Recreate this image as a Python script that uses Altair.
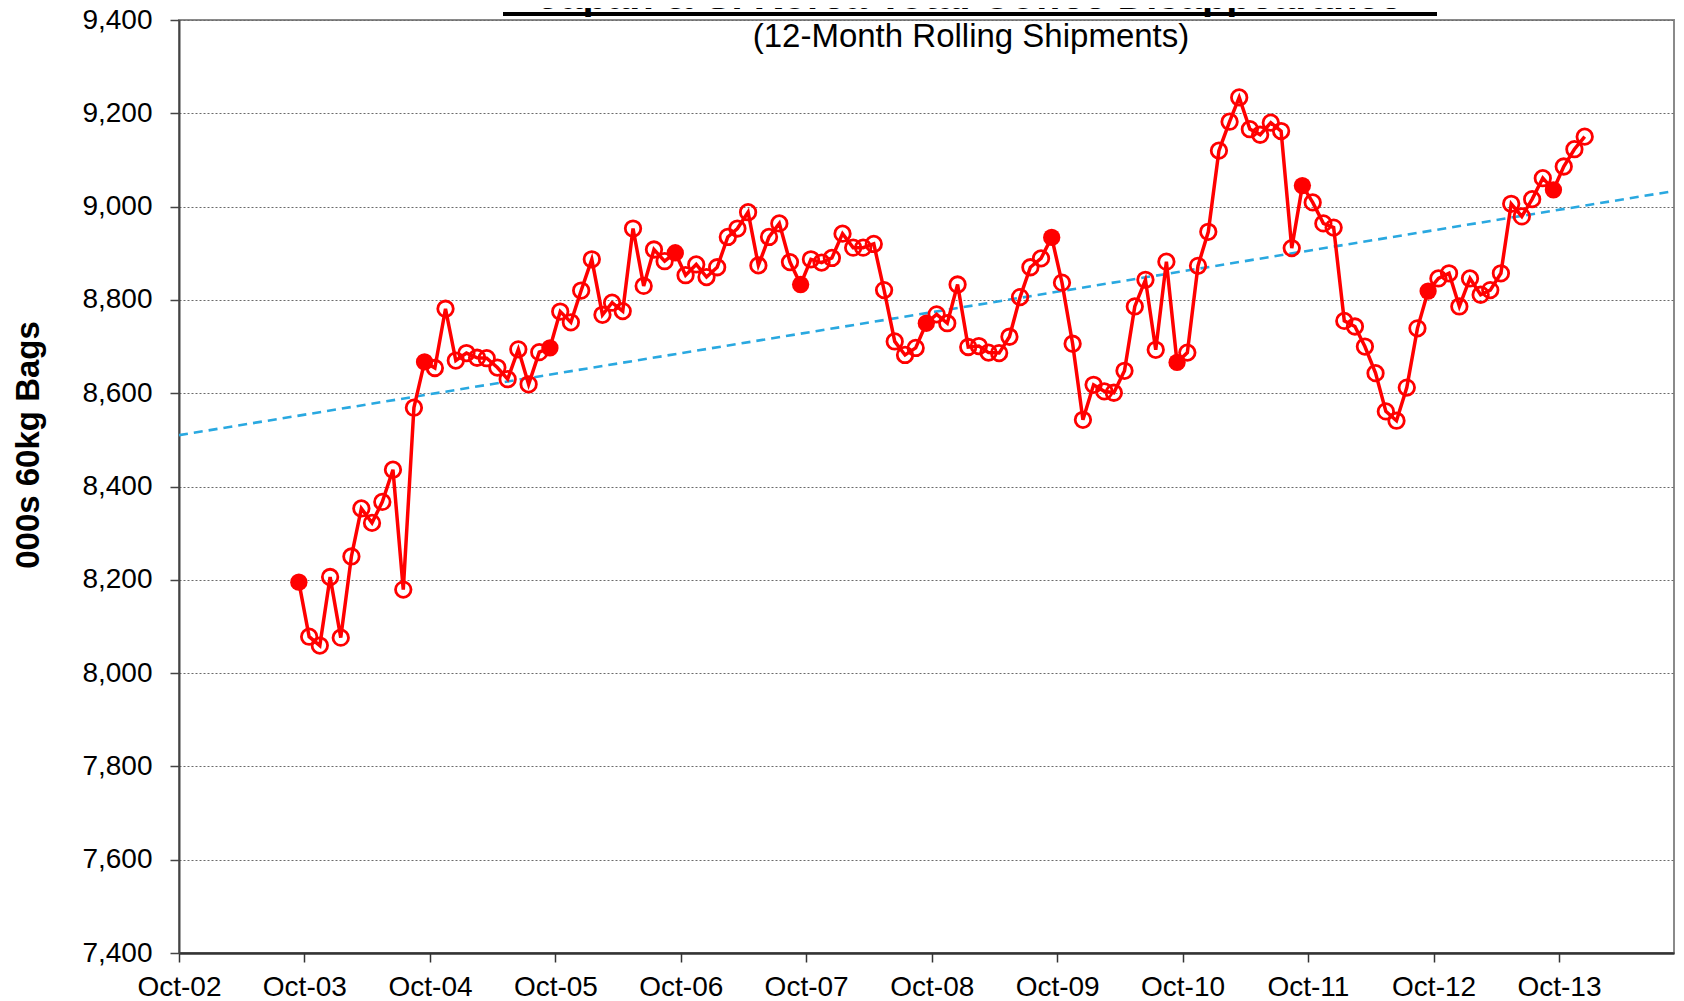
import altair as alt
import pandas as pd

# Monthly 12-month rolling shipments, Sep-03 .. Dec-13 (000s 60kg bags)
values = [
    8195, 8078, 8059, 8206, 8076, 8250, 8353, 8322, 8367, 8436, 8179, 8569,   # Sep-03..Aug-04
    8667, 8654, 8781, 8670, 8686, 8676, 8675, 8655, 8630, 8694, 8619, 8688,   # Sep-04..Aug-05
    8697, 8775, 8752, 8820, 8887, 8768, 8794, 8776, 8953, 8830, 8908, 8883,   # Sep-05..Aug-06
    8901, 8853, 8876, 8849, 8870, 8935, 8953, 8988, 8874, 8935, 8964, 8881,   # Sep-06..Aug-07
    8833, 8887, 8880, 8890, 8942, 8912, 8912, 8920, 8821, 8711, 8682, 8697,   # Sep-07..Aug-08
    8750, 8769, 8750, 8833, 8699, 8701, 8687, 8686, 8721, 8806, 8870, 8889,   # Sep-08..Aug-09
    8934, 8837, 8706, 8543, 8618, 8604, 8601, 8648, 8786, 8843, 8693, 8882,   # Sep-09..Aug-10
    8666, 8687, 8873, 8946, 9120, 9182, 9234, 9166, 9154, 9180, 9162, 8911,   # Sep-10..Aug-11
    9045, 9009, 8964, 8955, 8755, 8743, 8700, 8643, 8561, 8541, 8612, 8739,   # Sep-11..Aug-12
    8819, 8846, 8857, 8786, 8846, 8811, 8821, 8857, 9006, 8979, 9016, 9061,   # Sep-12..Aug-13
    9036, 9086, 9123, 9150,                                                   # Sep-13..Dec-13
]

dates = pd.date_range("2003-09-01", periods=len(values), freq="MS") + pd.Timedelta(days=14)
date_str = [d.strftime("%Y-%m-%dT00:00:00") for d in dates]
year_end = [bool(d.month == 9) for d in dates]

# Linear trend line end points
trend_dates = ["2002-10-01T00:00:00", "2014-10-01T00:00:00"]
trend_values = [8510, 9037]

title_text = "Japan & S. Korea Total Coffee Disappearance"
subtitle_text = "(12-Month Rolling Shipments)"
y_title = "000s 60kg Bags"

y_ticks = list(range(7400, 9401, 200))
x_tick_years = list(range(2002, 2014))

df = pd.DataFrame({"date": date_str, "value": values, "yearEnd": year_end})
trend_df = pd.DataFrame({"date": trend_dates, "value": trend_values})

FONT = "Liberation Sans"

x_scale = alt.Scale(domain=[alt.DateTime(year=2002, month=10, date=1),
                            alt.DateTime(year=2014, month=9, date=1)])
y_scale = alt.Scale(domain=[7400, 9400], nice=False, zero=False)

x_axis = alt.Axis(
    values=[alt.DateTime(year=y, month=10, date=1) for y in x_tick_years],
    format="%b-%y", formatType="time", title=None, labelAngle=0,
    labelFontSize=28, labelFont=FONT, labelColor="black",
    tickSize=9, tickColor="#333333", tickWidth=1.5,
    domainColor="#333333", domainWidth=2.5, labelPadding=11, grid=False,
    labelOverlap=False, labelFlush=False, labelBound=False,
)
y_axis = alt.Axis(
    values=y_ticks, format=",d", title=None,
    labelFontSize=28, labelFont=FONT, labelColor="black", labelPadding=18,
    tickSize=9, tickColor="#444444", tickWidth=1.5,
    domainColor="#444444", domainWidth=2,
    grid=True, gridColor="#6a6a6a", gridDash=[2, 2], gridWidth=1,
)

base = alt.Chart(df)

trend = alt.Chart(trend_df).mark_line(
    color="#29A8E0", strokeWidth=2.6, strokeDash=[9, 6], clip=True
).encode(
    x=alt.X("date:T", scale=x_scale, axis=x_axis),
    y=alt.Y("value:Q", scale=y_scale, axis=y_axis),
)

line = base.mark_line(color="#FF0000", strokeWidth=3.5).encode(
    x=alt.X("date:T", scale=x_scale, axis=x_axis),
    y=alt.Y("value:Q", scale=y_scale, axis=y_axis),
)

open_pts = base.transform_filter("!datum.yearEnd").mark_point(
    shape="circle", filled=False, size=240, strokeWidth=2.8, color="#FF0000", opacity=1
).encode(x="date:T", y="value:Q")

filled_pts = base.transform_filter("datum.yearEnd").mark_point(
    shape="circle", filled=True, size=300, color="#FF0000", opacity=1
).encode(x="date:T", y="value:Q")

one = pd.DataFrame({"k": [0]})

title_mark = alt.Chart(one).mark_text(
    text=title_text, font=FONT, fontSize=40, fontWeight="bold",
    align="center", baseline="alphabetic", color="black"
).encode(x=alt.value(791), y=alt.value(-11))

underline = alt.Chart(one).mark_rule(color="black", strokeWidth=4).encode(
    x=alt.value(324), x2=alt.value(1258), y=alt.value(-6)
)

subtitle_mark = alt.Chart(one).mark_text(
    text=subtitle_text, font=FONT, fontSize=33,
    align="center", baseline="alphabetic", color="black"
).encode(x=alt.value(792), y=alt.value(27))

ytitle_mark = alt.Chart(one).mark_text(
    text=y_title, font=FONT, fontSize=33, fontWeight="bold", angle=270,
    align="center", baseline="middle", color="black"
).encode(x=alt.value(-150), y=alt.value(425))

chart = alt.layer(
    trend, line, open_pts, filled_pts, title_mark, underline, subtitle_mark, ytitle_mark
).properties(
    width=1495, height=933,
    autosize=alt.AutoSizeParams(type="none"),
    padding={"left": 171, "top": 12, "right": 1, "bottom": 56},
    background="white",
).configure_view(
    stroke="#8a8a8a", strokeWidth=2
)

chart.save("out.html", embed_options={"renderer": "svg", "actions": False})
